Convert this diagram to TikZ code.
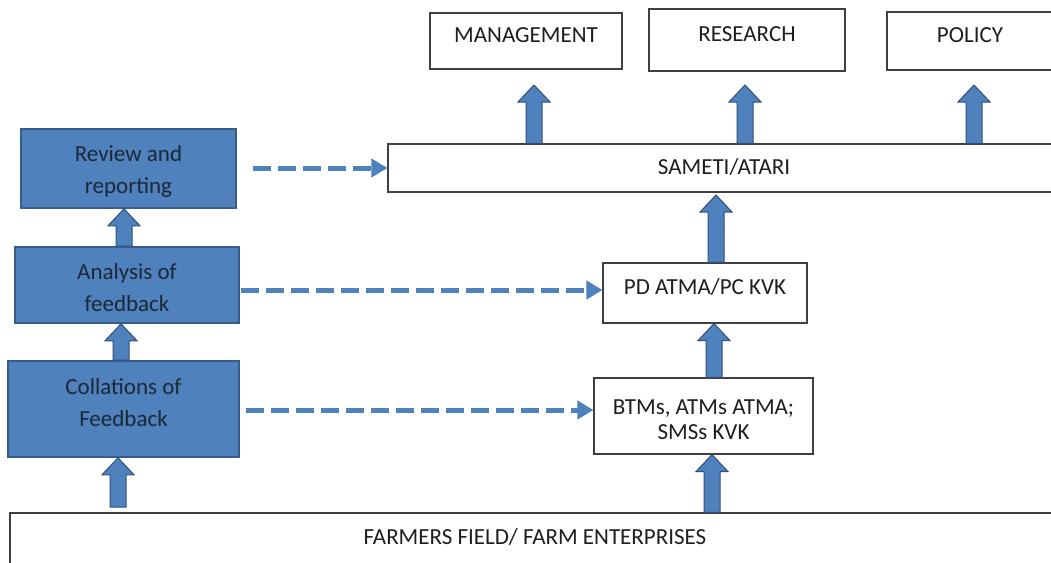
\documentclass[tikz,border=0pt]{standalone}
\usepackage{fontspec}
\setmainfont{Carlito}
\usetikzlibrary{calc,arrows.meta}
\definecolor{boxblue}{HTML}{4F81BD}
\definecolor{boxedge}{HTML}{385D8A}
\definecolor{arredge}{HTML}{2F4F7F}
\definecolor{dashblue}{HTML}{4F81BD}
\definecolor{navytext}{HTML}{1B2838}
\definecolor{graytext}{HTML}{1E1E1E}
\definecolor{grayedge}{HTML}{404040}
\tikzset{
  whitebox/.style={draw=grayedge, line width=1.1pt, fill=white, text=graytext,
    font=\fontsize{23}{25}\selectfont, align=center, inner sep=0pt},
  upshift/.style={text height=16pt, text depth=13pt},
  bluebox/.style={draw=boxedge, line width=1.6pt, fill=boxblue, text=navytext,
    font=\fontsize{23}{32}\selectfont, align=center, inner sep=0pt},
  blk/.style={fill=boxblue, draw=arredge, line width=1pt, line join=miter},
  blockup/.style={to path={let \p1=(\tikztostart), \p2=(\tikztotarget) in
    (\x1-8pt,\y1) -- (\x1-8pt,\y2-17pt) -- (\x1-16pt,\y2-17pt) -- (\x1,\y2)
    -- (\x1+16pt,\y2-17pt) -- (\x1+8pt,\y2-17pt) -- (\x1+8pt,\y1) -- cycle}},
  dasharr/.style={draw=dashblue, line width=5pt, dash pattern=on 18pt off 7pt,
    -{Triangle[width=18pt,length=16pt]}}
}
\begin{document}
\begin{tikzpicture}[x=1pt,y=-1pt]
\useasboundingbox (0,0) rectangle (1051,562);
\clip (0,0) rectangle (1051,562);
\fill[white] (0,0) rectangle (1051,562);

% top boxes
\node[whitebox, upshift, minimum width=192pt, minimum height=56pt] (mgmt) at (526,41) {MANAGEMENT};
\node[whitebox, upshift, minimum width=196pt, minimum height=62pt] (research) at (747,40) {RESEARCH};
\node[whitebox, upshift, minimum width=166pt, minimum height=58pt] (policy) at (970,41) {POLICY};

% middle column
\node[whitebox, minimum width=672pt, minimum height=48pt, text depth=4pt, text height=17pt] (sameti) at (724,168) {SAMETI/ATARI};
\node[whitebox, upshift, minimum width=204pt, minimum height=60pt] (pd) at (705,293) {PD ATMA/PC KVK};
\node[whitebox, minimum width=219pt, minimum height=76pt] (btm) at (703.5,416) {\rule{0pt}{23pt}BTMs, ATMs ATMA;\\ SMSs KVK};

% bottom
\node[whitebox, minimum width=1050pt, minimum height=52pt, text height=16pt, text depth=5pt] (farm) at (535,539) {FARMERS FIELD/ FARM ENTERPRISES};

% left column
\node[bluebox, minimum width=215pt, minimum height=79pt] (review) at (128.5,168.5) {\rule{0pt}{21pt}Review and\\ reporting};
\node[bluebox, minimum width=224pt, minimum height=76pt] (analysis) at (127,285) {\rule{0pt}{22pt}Analysis of\\ feedback};
\node[bluebox, minimum width=231pt, minimum height=96pt] (coll) at (123.5,409) {Collations of\\ Feedback\rule[-12pt]{0pt}{12pt}};

% tip coordinates for block arrows
\coordinate (tm) at (534,85);
\coordinate (tr) at (745,85);
\coordinate (tp) at (974,85);
\coordinate (ts) at (716,195);
\coordinate (tpd) at (714,323);
\coordinate (tb) at (712,453);
\coordinate (ta) at (121,323);
\coordinate (trv) at (124,208);
\coordinate (tc) at (118,460);
\coordinate (fc) at (118,507);

% block arrows
\draw[blk] (tm |- sameti.north) to[blockup] (tm);
\draw[blk] (tr |- sameti.north) to[blockup] (tr);
\draw[blk] (tp |- sameti.north) to[blockup] (tp);
\draw[blk] (ts |- pd.north) to[blockup] (ts);
\draw[blk] (tpd |- btm.north) to[blockup] (tpd |- pd.south);
\draw[blk] (tb |- farm.north) to[blockup] (tb |- btm.south);
\draw[blk] (ta |- coll.north) to[blockup] (ta |- analysis.south);
\draw[blk] (trv |- analysis.north) to[blockup] (trv |- review.south);
\draw[blk] (fc) to[blockup] (tc |- coll.south);

% dashed arrows
\coordinate (d1) at (253,168);
\coordinate (d2) at (241,290);
\coordinate (d3) at (246,410);
\draw[dasharr] (d1) -- (d1 -| sameti.west);
\draw[dasharr] (d2) -- (d2 -| pd.west);
\draw[dasharr] (d3) -- (d3 -| btm.west);
\end{tikzpicture}
\end{document}
